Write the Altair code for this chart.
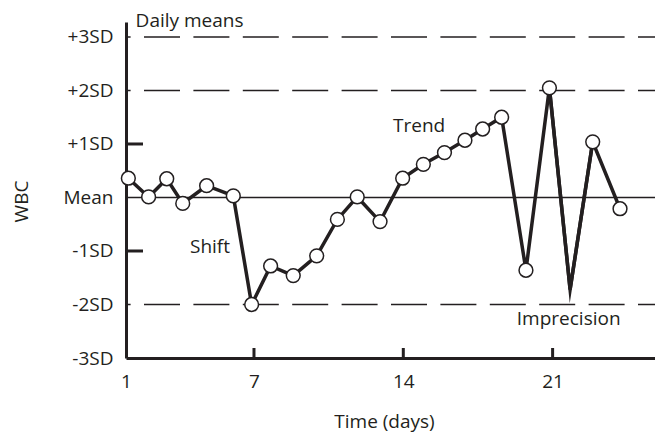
import altair as alt
import pandas as pd

# ---- data ----
days = [1.11, 2.06, 2.91, 3.66, 4.78, 6.03, 6.89, 7.78, 8.84, 9.94, 10.91, 11.84,
        12.91, 13.97, 14.94, 15.93, 16.89, 17.72, 18.61, 19.75, 20.85, 21.82, 22.88, 24.16]
sd_values = [0.36, 0.01, 0.35, -0.11, 0.22, 0.03, -2.00, -1.28, -1.46, -1.09, -0.41, 0.01,
             -0.45, 0.36, 0.62, 0.84, 1.07, 1.28, 1.50, -1.36, 2.05, -1.72, 1.04, -0.21]
has_marker = [True] * 21 + [False] + [True] * 2

y_tick_values = [-3, -2, -1, 0, 1, 2, 3]
y_tick_labels = ["-3SD", "-2SD", "-1SD", "Mean", "+1SD", "+2SD", "+3SD"]
x_tick_values = [1, 7, 14, 21]
dashed_levels = [3, 2, -2]
inner_y_ticks = [1, -1]
inner_x_ticks = [7, 14, 21]

notes_text = ["Daily means", "Trend", "Shift", "Imprecision"]
notes_day = [1.45, 13.52, 4.0, 19.32]
notes_sd = [3.18, 1.23, -1.03, -2.38]

INK = "#231f20"
FONT = "Open Sans"
W, H = 529, 336
X_DOMAIN = [1, 25.8]
Y_DOMAIN = [-3, 3.28]

df = pd.DataFrame({"idx": list(range(len(days))), "day": days, "sd": sd_values,
                   "marker": has_marker})
notes = pd.DataFrame({"text": notes_text, "day": notes_day, "sd": notes_sd})

xs = alt.Scale(domain=X_DOMAIN, nice=False, zero=False)
ys = alt.Scale(domain=Y_DOMAIN, nice=False, zero=False)

label_expr = " : ".join(
    [f"datum.value == {v} ? '{l}'" for v, l in zip(y_tick_values, y_tick_labels)]
) + " : ''"

line = alt.Chart(df).mark_line(
    color=INK, strokeWidth=3.5, strokeJoin="miter", strokeMiterLimit=4
).encode(
    x=alt.X("day:Q", scale=xs, axis=alt.Axis(
        values=x_tick_values, title="Time (days)", ticks=False, labelFlush=False,
        labelPadding=14, titleX=258, titleY=69, titleBaseline="alphabetic",
        titleAnchor="start", titleAlign="center")),
    y=alt.Y("sd:Q", scale=ys, axis=alt.Axis(
        values=y_tick_values, labelExpr=label_expr, title="WBC", ticks=False,
        labelFlush=False, labelPadding=13, titleAngle=270, titleX=-105, titleY=179,
        titleBaseline="middle", titleAlign="center", titleAnchor="start")),
    order="idx:Q",
)

# sharp (mitred) tip of the unmarked low value
spike = alt.Chart(df).transform_filter(
    "datum.idx >= 20 && datum.idx <= 22"
).mark_line(
    color=INK, strokeWidth=3.5, strokeJoin="miter", strokeMiterLimit=20
).encode(x=alt.X("day:Q", scale=xs), y=alt.Y("sd:Q", scale=ys), order="idx:Q")

dashed = alt.Chart(pd.DataFrame({"lvl": dashed_levels})).mark_rule(
    color=INK, strokeWidth=1.6, strokeDash=[36, 13.4], strokeDashOffset=19
).encode(y=alt.Y("lvl:Q", scale=ys))

mean_line = alt.Chart(pd.DataFrame({"lvl": [0]})).mark_rule(
    color=INK, strokeWidth=1.6
).encode(y=alt.Y("lvl:Q", scale=ys))

yticks = alt.Chart(pd.DataFrame({"lvl": inner_y_ticks})).mark_rule(
    color=INK, strokeWidth=3
).encode(y=alt.Y("lvl:Q", scale=ys), x=alt.value(0), x2=alt.value(17))

xticks = alt.Chart(pd.DataFrame({"d": inner_x_ticks})).mark_rule(
    color=INK, strokeWidth=3
).encode(x=alt.X("d:Q", scale=xs), y=alt.value(H), y2=alt.value(H - 10))

points = alt.Chart(df).transform_filter("datum.marker").mark_point(
    shape="circle", filled=True, fill="white", stroke=INK, strokeWidth=1.5,
    size=190, opacity=1
).encode(x=alt.X("day:Q", scale=xs), y=alt.Y("sd:Q", scale=ys))

texts = alt.Chart(notes).mark_text(
    align="left", baseline="alphabetic", font=FONT, fontSize=19, color=INK
).encode(x=alt.X("day:Q", scale=xs), y=alt.Y("sd:Q", scale=ys), text="text:N")

chart = alt.layer(dashed, mean_line, yticks, xticks, line, spike, points, texts).properties(
    width=W, height=H,
    autosize=alt.AutoSizeParams(type="none"),
    padding={"left": 118, "top": 14, "right": 0, "bottom": 75},
).configure_view(stroke=None).configure_axis(
    grid=False, domainColor=INK, domainWidth=3,
    labelFont=FONT, labelFontSize=19, labelColor=INK,
    titleFont=FONT, titleFontSize=19, titleColor=INK, titleFontWeight="normal",
)

chart.save("out.html", embed_options={"renderer": "svg", "actions": False})
